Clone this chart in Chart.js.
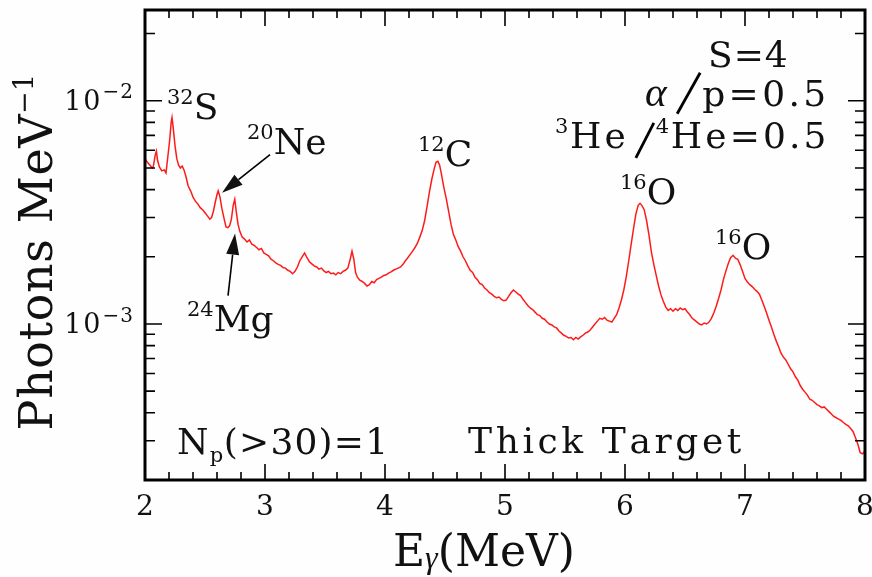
<!DOCTYPE html>
<html>
<head>
<meta charset="utf-8">
<script src="https://cdn.jsdelivr.net/npm/chart.js@4.4.0/dist/chart.umd.min.js"></script>
<style>
  html, body { margin: 0; padding: 0; background: #fdfefd; }
  #wrap { width: 872px; height: 577px; }
</style>
</head>
<body>
<div id="wrap"><canvas id="chart" width="872" height="577"></canvas></div>
<script>
// gamma-ray energy (MeV)
const energies = [
  2.00, 2.02, 2.04, 2.06, 2.07, 2.085, 2.095, 2.105, 2.12, 2.14,
  2.16, 2.175, 2.19, 2.205, 2.218, 2.225, 2.235, 2.25, 2.265, 2.28,
  2.295, 2.31, 2.325, 2.34, 2.36, 2.38, 2.40, 2.42, 2.44, 2.46,
  2.48, 2.50, 2.52, 2.54, 2.555, 2.57, 2.585, 2.60, 2.61, 2.625,
  2.64, 2.66, 2.675, 2.69, 2.705, 2.72, 2.735, 2.748, 2.76, 2.775,
  2.79, 2.81, 2.83, 2.85, 2.87, 2.89, 2.91, 2.93, 2.95, 2.97,
  2.99, 3.01, 3.03, 3.05, 3.07, 3.09, 3.11, 3.13, 3.15, 3.17,
  3.19, 3.21, 3.23, 3.25, 3.27, 3.29, 3.31, 3.33, 3.35, 3.37,
  3.39, 3.41, 3.43, 3.45, 3.47, 3.49, 3.51, 3.53, 3.55, 3.57,
  3.59, 3.61, 3.63, 3.65, 3.67, 3.69, 3.71, 3.725, 3.74, 3.755,
  3.77, 3.79, 3.81, 3.83, 3.85, 3.87, 3.89, 3.91, 3.93, 3.95,
  3.97, 3.99, 4.01, 4.03, 4.05, 4.07, 4.09, 4.11, 4.13, 4.15,
  4.17, 4.19, 4.21, 4.23, 4.25, 4.27, 4.29, 4.31, 4.33, 4.35,
  4.37, 4.39, 4.41, 4.425, 4.44, 4.455, 4.47, 4.49, 4.51, 4.53,
  4.55, 4.57, 4.59, 4.61, 4.63, 4.65, 4.67, 4.69, 4.71, 4.73,
  4.75, 4.77, 4.79, 4.81, 4.83, 4.85, 4.87, 4.89, 4.91, 4.93,
  4.95, 4.97, 4.99, 5.01, 5.03, 5.05, 5.07, 5.09, 5.11, 5.13,
  5.15, 5.17, 5.19, 5.21, 5.23, 5.25, 5.27, 5.29, 5.31, 5.33,
  5.35, 5.37, 5.39, 5.41, 5.43, 5.45, 5.47, 5.49, 5.51, 5.53,
  5.55, 5.57, 5.59, 5.61, 5.63, 5.65, 5.67, 5.69, 5.71, 5.73,
  5.75, 5.77, 5.79, 5.81, 5.83, 5.85, 5.87, 5.89, 5.91, 5.93,
  5.95, 5.97, 5.99, 6.01, 6.03, 6.05, 6.07, 6.09, 6.11, 6.125,
  6.14, 6.16, 6.18, 6.20, 6.22, 6.24, 6.26, 6.28, 6.30, 6.32,
  6.34, 6.36, 6.38, 6.40, 6.42, 6.44, 6.46, 6.48, 6.50, 6.52,
  6.54, 6.56, 6.58, 6.60, 6.62, 6.64, 6.66, 6.68, 6.70, 6.72,
  6.74, 6.76, 6.78, 6.80, 6.82, 6.84, 6.86, 6.88, 6.90, 6.92,
  6.94, 6.96, 6.98, 7.00, 7.02, 7.04, 7.06, 7.08, 7.10, 7.12,
  7.14, 7.16, 7.18, 7.20, 7.22, 7.24, 7.26, 7.28, 7.30, 7.32,
  7.34, 7.36, 7.38, 7.40, 7.42, 7.44, 7.46, 7.48, 7.50, 7.52,
  7.54, 7.56, 7.58, 7.60, 7.62, 7.64, 7.66, 7.68, 7.70, 7.72,
  7.74, 7.76, 7.78, 7.80, 7.82, 7.84, 7.86, 7.88, 7.90, 7.92,
  7.94, 7.96, 7.98, 8.00
];

// photons per MeV
const photons = [
  5.5e-3, 5.3e-3, 5.15e-3, 5.0e-3, 5.1e-3, 5.7e-3, 5.95e-3, 5.4e-3, 5.05e-3, 4.85e-3,
  4.9e-3, 4.75e-3, 5.6e-3, 6.6e-3, 8.0e-3, 8.4e-3, 7.6e-3, 6.3e-3, 5.5e-3, 5.15e-3,
  5.0e-3, 5.1e-3, 4.9e-3, 4.6e-3, 4.15e-3, 3.95e-3, 3.7e-3, 3.55e-3, 3.45e-3, 3.32e-3,
  3.25e-3, 3.15e-3, 3.05e-3, 2.95e-3, 3.0e-3, 3.2e-3, 3.5e-3, 3.8e-3, 3.95e-3, 3.7e-3,
  3.3e-3, 2.95e-3, 2.72e-3, 2.7e-3, 2.75e-3, 2.95e-3, 3.4e-3, 3.62e-3, 3.2e-3, 2.8e-3,
  2.6e-3, 2.45e-3, 2.4e-3, 2.33e-3, 2.38e-3, 2.28e-3, 2.25e-3, 2.2e-3, 2.15e-3, 2.18e-3,
  2.08e-3, 2.05e-3, 2.02e-3, 1.95e-3, 1.92e-3, 1.88e-3, 1.85e-3, 1.83e-3, 1.79e-3, 1.78e-3,
  1.74e-3, 1.72e-3, 1.68e-3, 1.72e-3, 1.8e-3, 1.92e-3, 2.0e-3, 2.08e-3, 1.98e-3, 1.9e-3,
  1.86e-3, 1.82e-3, 1.8e-3, 1.76e-3, 1.78e-3, 1.73e-3, 1.7e-3, 1.72e-3, 1.68e-3, 1.69e-3,
  1.66e-3, 1.7e-3, 1.68e-3, 1.72e-3, 1.74e-3, 1.78e-3, 1.95e-3, 2.12e-3, 1.95e-3, 1.7e-3,
  1.62e-3, 1.57e-3, 1.55e-3, 1.52e-3, 1.48e-3, 1.5e-3, 1.55e-3, 1.53e-3, 1.58e-3, 1.6e-3,
  1.62e-3, 1.65e-3, 1.66e-3, 1.69e-3, 1.71e-3, 1.74e-3, 1.76e-3, 1.78e-3, 1.8e-3, 1.85e-3,
  1.92e-3, 1.98e-3, 2.05e-3, 2.12e-3, 2.2e-3, 2.3e-3, 2.45e-3, 2.62e-3, 2.9e-3, 3.35e-3,
  3.9e-3, 4.45e-3, 4.95e-3, 5.3e-3, 5.35e-3, 5.15e-3, 4.7e-3, 4.1e-3, 3.65e-3, 3.2e-3,
  2.8e-3, 2.52e-3, 2.38e-3, 2.22e-3, 2.12e-3, 2.0e-3, 1.92e-3, 1.82e-3, 1.74e-3, 1.7e-3,
  1.62e-3, 1.58e-3, 1.52e-3, 1.5e-3, 1.45e-3, 1.42e-3, 1.38e-3, 1.36e-3, 1.33e-3, 1.31e-3,
  1.32e-3, 1.29e-3, 1.27e-3, 1.28e-3, 1.33e-3, 1.38e-3, 1.42e-3, 1.39e-3, 1.36e-3, 1.34e-3,
  1.29e-3, 1.25e-3, 1.21e-3, 1.18e-3, 1.16e-3, 1.13e-3, 1.1e-3, 1.09e-3, 1.06e-3, 1.05e-3,
  1.02e-3, 1.0e-3, 9.9e-4, 9.7e-4, 9.6e-4, 9.3e-4, 9.1e-4, 8.9e-4, 8.8e-4, 8.65e-4,
  8.7e-4, 8.5e-4, 8.7e-4, 8.55e-4, 8.75e-4, 8.9e-4, 9.1e-4, 9.2e-4, 9.4e-4, 9.7e-4,
  1.0e-3, 1.03e-3, 1.06e-3, 1.05e-3, 1.07e-3, 1.04e-3, 1.03e-3, 1.02e-3, 1.06e-3, 1.1e-3,
  1.18e-3, 1.28e-3, 1.42e-3, 1.62e-3, 1.9e-3, 2.25e-3, 2.65e-3, 3.1e-3, 3.4e-3, 3.47e-3,
  3.4e-3, 3.25e-3, 2.9e-3, 2.5e-3, 2.1e-3, 1.85e-3, 1.65e-3, 1.48e-3, 1.35e-3, 1.26e-3,
  1.19e-3, 1.15e-3, 1.17e-3, 1.14e-3, 1.17e-3, 1.15e-3, 1.18e-3, 1.16e-3, 1.17e-3, 1.13e-3,
  1.1e-3, 1.06e-3, 1.04e-3, 1.02e-3, 1.0e-3, 9.9e-4, 1.01e-3, 1.0e-3, 1.02e-3, 1.06e-3,
  1.12e-3, 1.2e-3, 1.3e-3, 1.42e-3, 1.58e-3, 1.72e-3, 1.86e-3, 1.98e-3, 2.03e-3, 1.97e-3,
  1.95e-3, 1.84e-3, 1.72e-3, 1.6e-3, 1.54e-3, 1.5e-3, 1.47e-3, 1.43e-3, 1.4e-3, 1.36e-3,
  1.28e-3, 1.2e-3, 1.12e-3, 1.04e-3, 9.7e-4, 9.0e-4, 8.4e-4, 7.9e-4, 7.4e-4, 7.1e-4,
  6.9e-4, 6.6e-4, 6.3e-4, 6.1e-4, 5.8e-4, 5.6e-4, 5.3e-4, 5.1e-4, 4.95e-4, 4.8e-4,
  4.6e-4, 4.55e-4, 4.45e-4, 4.35e-4, 4.3e-4, 4.22e-4, 4.25e-4, 4.15e-4, 4.05e-4, 3.95e-4,
  3.85e-4, 3.8e-4, 3.75e-4, 3.7e-4, 3.62e-4, 3.55e-4, 3.5e-4, 3.4e-4, 3.3e-4, 3.1e-4,
  2.9e-4, 2.65e-4, 2.62e-4, 2.7e-4
];

const xTickValues = [2, 3, 4, 5, 6, 7, 8];
const yDecades = [1e-4, 1e-3, 1e-2];
const yLabelDecades = [1e-3, 1e-2];

const FONT = '"DejaVu Serif"';
const GREEK = '"Liberation Serif"';

// labels on the plot: anchor (energy, photons) = left end of the baseline
const annotations = [
  { e: 2.183, v: 8.3e-3, parts: [{ s: '32', sup: true }, { s: 'S' }] },
  { e: 2.85, v: 5.78e-3, parts: [{ s: '20', sup: true }, { s: 'Ne' }] },
  { e: 2.35, v: 9.3e-4, parts: [{ s: '24', sup: true }, { s: 'Mg' }] },
  { e: 4.275, v: 5.11e-3, parts: [{ s: '12', sup: true }, { s: 'C' }] },
  { e: 5.958, v: 3.45e-3, parts: [{ s: '16', sup: true }, { s: 'O' }] },
  { e: 6.75, v: 1.96e-3, parts: [{ s: '16', sup: true }, { s: 'O' }] },
  { e: 6.692, v: 1.42e-2, sp: 1, parts: [{ s: 'S=4' }] },
  { e: 6.167, v: 9.5e-3, sp: 3.4, parts: [{ s: 'α', greek: true, scale: 1.15 },
                                          { slash: true, adv: 32, x0: 7, x1: 30, top: 33, bot: 8 },
                                          { s: 'p=0.5' }] },
  { e: 5.417, v: 6.15e-3, sp: 3.1, parts: [{ s: '3', sup: true }, { s: 'He' },
                                           { slash: true, adv: 27, x0: 7, x1: 25, top: 25, bot: 10 },
                                           { s: '4', sup: true }, { s: 'He=0.5' }] },
  { e: 2.267, v: 2.61e-4, sp: 1.2, parts: [{ s: 'N' }, { s: 'p', sub: true }, { s: '(>30)=1' }] },
  { e: 4.692, v: 2.63e-4, sp: 3.6, parts: [{ s: 'Thick Target' }] }
];

// arrows: from tail to tip, both in data coordinates
const arrows = [
  { from: [3.042, 5.73e-3], to: [2.642, 3.87e-3] },
  { from: [2.692, 1.34e-3], to: [2.75, 2.54e-3] }
];

function partFont(p, size, small) {
  const fs = (p.sup || p.sub) ? small : size * (p.scale || 1);
  return p.greek ? 'italic ' + fs + 'px ' + GREEK : fs + 'px ' + FONT;
}

// draws text pieces one after another, with super/subscripts and slanted slashes
function drawRich(ctx, x, y, parts, size, opts = {}) {
  const small = opts.small || Math.round(size * 0.58);
  const sp = opts.sp || 0;
  for (const p of parts) {
    if (p.slash) {
      ctx.beginPath();
      ctx.lineWidth = 2.8;
      ctx.moveTo(x + p.x0, y + p.bot);
      ctx.lineTo(x + p.x1, y - p.top);
      ctx.stroke();
      x += p.adv;
      continue;
    }
    let dy = p.sup ? -size * 0.42 : (p.sub ? size * 0.22 : 0);
    if (p.dy !== undefined) dy = p.dy;
    ctx.font = partFont(p, size, small);
    const psp = (p.sup || p.sub) ? sp * 0.5 : sp;
    for (const ch of p.s) {
      ctx.fillText(ch, x, y + dy);
      x += ctx.measureText(ch).width + psp;
    }
  }
  return x;
}

function richWidth(ctx, parts, size, opts = {}) {
  const small = opts.small || Math.round(size * 0.58);
  const sp = opts.sp || 0;
  let w = 0;
  for (const p of parts) {
    if (p.slash) { w += p.adv; continue; }
    ctx.font = partFont(p, size, small);
    const psp = (p.sup || p.sub) ? sp * 0.5 : sp;
    for (const ch of p.s) w += ctx.measureText(ch).width + psp;
  }
  return w;
}

const framePlugin = {
  id: 'frame',
  afterDraw(chart) {
    const { ctx, chartArea: a, scales: { x, y } } = chart;
    ctx.save();
    ctx.strokeStyle = '#000';
    ctx.fillStyle = '#111';

    // minor / major ticks, pointing inwards on all four sides
    ctx.lineWidth = 1.6;
    ctx.beginPath();
    for (let i = 0; i <= 30; i++) {
      const px = x.getPixelForValue(2 + i * 0.2);
      const len = i % 5 === 0 ? 16 : 8;
      ctx.moveTo(px, a.bottom); ctx.lineTo(px, a.bottom - len);
      ctx.moveTo(px, a.top); ctx.lineTo(px, a.top + len);
    }
    for (const d of yDecades) {
      for (let m = 1; m <= 9; m++) {
        const v = m * d;
        if (v < y.min || v > y.max) continue;
        const py = y.getPixelForValue(v);
        const len = m === 1 ? 17 : 10;
        ctx.moveTo(a.left, py); ctx.lineTo(a.left + len, py);
        ctx.moveTo(a.right, py); ctx.lineTo(a.right - len, py);
      }
    }
    ctx.stroke();

    // frame
    ctx.lineWidth = 3;
    ctx.strokeRect(a.left, a.top, a.right - a.left, a.bottom - a.top);

    // x tick labels
    ctx.textAlign = 'center';
    ctx.textBaseline = 'alphabetic';
    ctx.font = '28px ' + FONT;
    for (const v of xTickValues) {
      ctx.fillText(String(v), x.getPixelForValue(v), a.bottom + 35);
    }

    // y tick labels 10^n
    ctx.textAlign = 'left';
    for (const v of yLabelDecades) {
      const parts = [{ s: '10' }, { s: '−' + Math.round(-Math.log10(v)), sup: true }];
      const o = { small: 20, sp: 2 };
      const w = richWidth(ctx, parts, 27, o);
      drawRich(ctx, a.left - 11 - w, y.getPixelForValue(v) + 9, parts, 27, o);
    }

    // axis titles
    drawRich(ctx, a.left + 248, a.bottom + 86,
      [{ s: 'E' }, { s: 'γ', sub: true, greek: true, dy: 2 }, { s: '(MeV)' }], 44, { small: 32 });
    const yt = [{ s: 'Photons MeV' }, { s: '−1', sup: true }];
    const yo = { small: 27, sp: 0.6 };
    ctx.save();
    ctx.translate(52, (a.top + a.bottom) / 2 + 7);
    ctx.rotate(-Math.PI / 2);
    drawRich(ctx, -richWidth(ctx, yt, 46, yo) / 2, 0, yt, 46, yo);
    ctx.restore();

    // annotations
    for (const t of annotations) {
      drawRich(ctx, x.getPixelForValue(t.e), y.getPixelForValue(t.v), t.parts, 36, { sp: t.sp || 0 });
    }

    // arrows
    ctx.lineWidth = 1.6;
    for (const ar of arrows) {
      const x0 = x.getPixelForValue(ar.from[0]), y0 = y.getPixelForValue(ar.from[1]);
      const x1 = x.getPixelForValue(ar.to[0]), y1 = y.getPixelForValue(ar.to[1]);
      const ang = Math.atan2(y1 - y0, x1 - x0);
      const hl = 21, hw = 6.5;
      const bx = x1 - hl * Math.cos(ang), by = y1 - hl * Math.sin(ang);
      ctx.beginPath();
      ctx.moveTo(x0, y0); ctx.lineTo(bx, by);
      ctx.stroke();
      ctx.beginPath();
      ctx.moveTo(x1, y1);
      ctx.lineTo(bx + hw * Math.sin(ang), by - hw * Math.cos(ang));
      ctx.lineTo(bx - hw * Math.sin(ang), by + hw * Math.cos(ang));
      ctx.closePath();
      ctx.fill();
    }
    ctx.restore();
  }
};

const ctx = document.getElementById('chart').getContext('2d');
const chart = new Chart(ctx, {
  type: 'line',
  data: {
    datasets: [{
      data: energies.map((e, i) => ({ x: e, y: photons[i] })),
      borderColor: '#ff1a1a',
      borderWidth: 1.5,
      pointRadius: 0,
      tension: 0
    }]
  },
  options: {
    responsive: false,
    animation: false,
    layout: { padding: { left: 0, right: 7, top: 10, bottom: 0 } },
    plugins: { legend: { display: false }, tooltip: { enabled: false } },
    scales: {
      x: {
        type: 'linear', min: 2, max: 8,
        grid: { display: false }, border: { display: false },
        ticks: { display: false },
        afterFit: (s) => { s.height = 97; }
      },
      y: {
        type: 'logarithmic', min: 2e-4, max: 0.0255,
        grid: { display: false }, border: { display: false },
        ticks: { display: false },
        afterFit: (s) => { s.width = 145; }
      }
    }
  },
  plugins: [framePlugin]
});
</script>
</body>
</html>
